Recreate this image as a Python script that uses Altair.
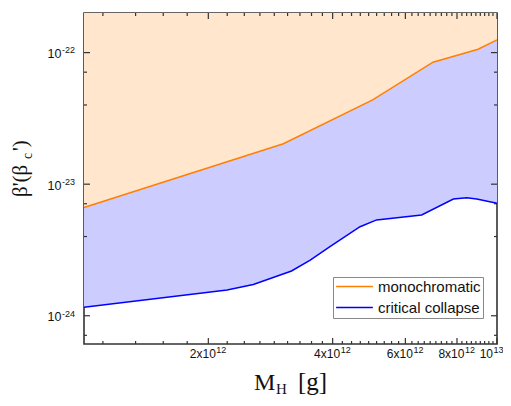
import altair as alt
import pandas as pd

# ---- data ----
mono_mass = [1.0e12, 3.04e12, 5.0e12, 7.0e12, 9.0e12, 1.0e13]
mono_beta = [6.65e-24, 2.03e-23, 4.37e-23, 8.45e-23, 1.06e-22, 1.25e-22]

crit_mass = [1.0e12, 2.22e12, 2.57e12, 3.18e12, 3.53e12, 3.94e12, 4.66e12,
             5.11e12, 6.57e12, 7.84e12, 8.45e12, 8.93e12, 1.0e13]
crit_beta = [1.16e-24, 1.57e-24, 1.73e-24, 2.19e-24, 2.65e-24, 3.35e-24, 4.75e-24,
             5.35e-24, 5.83e-24, 7.72e-24, 7.89e-24, 7.72e-24, 7.16e-24]

series_names = ["monochromatic", "critical collapse"]
line_colors = ["#FF8000", "#0000FF"]
fill_colors = ["#FFE6CC", "#CCCCFF"]

x_major = [2e12, 4e12, 6e12, 8e12, 1e13]
x_mant = ["2x10", "4x10", "6x10", "8x10", "10"]
x_exp = ["12", "12", "12", "12", "13"]
x_minor = [k * 2e12 / 9 for k in range(5, 45) if k % 9 != 0]
y_major = [1e-24, 1e-23, 1e-22]
y_mant = ["10", "10", "10"]
y_exp = ["-24", "-23", "-22"]
y_minor = [7.1e-25, 4e-24, 7.1e-24, 4e-23, 7.1e-23]

W, H = 413, 331
xs = alt.Scale(type="log", domain=[1e12, 1e13], nice=False)
ys = alt.Scale(type="log", domain=[6.1e-25, 2e-22], nice=False)

mono_df = pd.DataFrame({"mass": mono_mass, "beta": mono_beta})
crit_df = pd.DataFrame({"mass": crit_mass, "beta": crit_beta})
lines_df = pd.concat([
    mono_df.assign(series=series_names[0]),
    crit_df.assign(series=series_names[1]),
])

X = alt.X("mass:Q", scale=xs, axis=None)
Y = alt.Y("beta:Q", scale=ys, axis=None, stack=None)

blue_fill = alt.Chart(crit_df).mark_area(color=fill_colors[1], opacity=1).encode(
    x=X, y=Y, y2=alt.value(0))
peach_fill = alt.Chart(mono_df).mark_area(color=fill_colors[0], opacity=1).encode(
    x=X, y=Y, y2=alt.value(0))

lines = alt.Chart(lines_df).mark_line(strokeWidth=1.5).encode(
    x=X, y=Y,
    color=alt.Color("series:N",
                    scale=alt.Scale(domain=series_names, range=line_colors),
                    legend=alt.Legend(orient="none", legendX=249, legendY=264, title=None,
                                      symbolType="M-3,0H3", symbolSize=150,
                                      symbolStrokeWidth=1.5, symbolOffset=12,
                                      labelFontSize=15, labelFont="Liberation Sans",
                                      labelColor="#111",
                                      strokeColor="#888", fillColor="white",
                                      padding=2, rowPadding=5, labelOffset=16,
                                      labelLimit=300)),
)

tick_col = "#333"
ymaj = pd.DataFrame({"beta": y_major, "mant": y_mant, "exp": y_exp})
ymin = pd.DataFrame({"beta": y_minor})
xmaj = pd.DataFrame({"mass": x_major, "mant": x_mant, "exp": x_exp})
xmin = pd.DataFrame({"mass": x_minor})


def rule(df):
    return alt.Chart(df).mark_rule(color=tick_col, strokeWidth=1.2)


ticks = [
    rule(ymaj).encode(y=Y, x=alt.value(0), x2=alt.value(6)),
    rule(ymaj).encode(y=Y, x=alt.value(W - 6), x2=alt.value(W)),
    rule(ymin).encode(y=Y, x=alt.value(0), x2=alt.value(3)),
    rule(ymin).encode(y=Y, x=alt.value(W - 3), x2=alt.value(W)),
    rule(xmaj).encode(x=X, y=alt.value(H - 6), y2=alt.value(H)),
    rule(xmaj).encode(x=X, y=alt.value(0), y2=alt.value(6)),
    rule(xmin).encode(x=X, y=alt.value(H - 3), y2=alt.value(H)),
    rule(xmin).encode(x=X, y=alt.value(0), y2=alt.value(3)),
]

sans = "Liberation Sans"
lab_col = "#111"

# tick labels: mantissa + raised exponent
ylab = [
    alt.Chart(ymaj).mark_text(font=sans, fontSize=12.5, align="right", baseline="alphabetic",
                              dy=5.5, color=lab_col).encode(
        y=Y, x=alt.value(-22.5), text="mant:N"),
    alt.Chart(ymaj).mark_text(font=sans, fontSize=9, align="left", baseline="alphabetic",
                              dy=0.8, color=lab_col).encode(
        y=Y, x=alt.value(-22), text="exp:N"),
]
xmaj_a = xmaj[xmaj["mass"] < 9e12]
xmaj_b = xmaj[xmaj["mass"] >= 9e12]
xlab = [
    alt.Chart(xmaj_a).mark_text(font=sans, fontSize=12, align="right", baseline="alphabetic",
                                dx=7.5, color=lab_col).encode(
        x=X, y=alt.value(H + 13.5), text="mant:N"),
    alt.Chart(xmaj_a).mark_text(font=sans, fontSize=9, align="left", baseline="alphabetic",
                                dx=8, color=lab_col).encode(
        x=X, y=alt.value(H + 9), text="exp:N"),
    alt.Chart(xmaj_b).mark_text(font=sans, fontSize=12, align="right", baseline="alphabetic",
                                dx=-4, color=lab_col).encode(
        x=X, y=alt.value(H + 13.5), text="mant:N"),
    alt.Chart(xmaj_b).mark_text(font=sans, fontSize=9, align="left", baseline="alphabetic",
                                dx=-3.5, color=lab_col).encode(
        x=X, y=alt.value(H + 9), text="exp:N"),
]

one = pd.DataFrame({"a": [0]})
serif = "Liberation Serif"


def txt(s, x, y, size, angle=0):
    return alt.Chart(one).mark_text(text=s, font=serif, fontSize=size, align="left",
                                    baseline="alphabetic", angle=angle, color=lab_col).encode(
        x=alt.value(x), y=alt.value(y))


titles = [
    # x title: M_H [g]
    txt("M", 170, 377, 24),
    txt("H", 192, 381, 15),
    txt("[g]", 214, 377, 25),
    # y title: β'(β_c')  rotated
    txt("β'(β", -57, 184, 21, angle=270),
    txt("c", -52, 146, 14, angle=270),
    txt("')", -57, 138, 21, angle=270),
]

chart = alt.layer(blue_fill, peach_fill, *ticks, lines, *ylab, *xlab, *titles).properties(
    width=W, height=H, background="white",
    autosize=alt.AutoSizeParams(type="none"),
    padding={"left": 76, "top": 5, "right": 6, "bottom": 54},
).configure_view(stroke="#333", strokeWidth=1.6)

chart.save("out.html", embed_options={"renderer": "svg", "actions": False})
